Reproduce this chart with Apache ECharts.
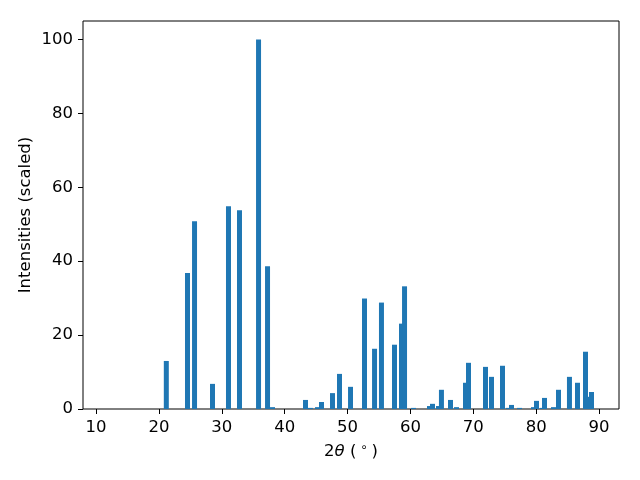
<!DOCTYPE html>
<html><head><meta charset="utf-8">
<script src="https://cdn.jsdelivr.net/npm/echarts@6/dist/echarts.min.js"></script>
<style>html,body{margin:0;padding:0;background:#fff}#c{width:640px;height:480px}</style>
</head><body><div id="c"></div>
<script>
const twoTheta = [21.18, 24.55, 25.67, 28.53, 31.07, 32.82, 35.85, 37.28, 38.07, 43.32, 44.1, 45.23, 45.86, 47.61, 48.73, 50.48, 52.7, 54.3, 55.4, 57.47, 58.59, 59.07, 60.5, 63.04, 63.52, 64.47, 64.94, 66.38, 67.34, 68.77, 69.24, 71.95, 72.9, 74.65, 75.6, 76.08, 77.36, 79.58, 80.06, 81.0, 81.33, 82.76, 83.56, 85.3, 86.58, 87.85, 88.33, 88.81];
const intensities = [13.0, 36.8, 50.8, 6.8, 54.9, 53.8, 100, 38.6, 0.5, 2.45, 0.3, 0.5, 1.9, 4.3, 9.5, 6.0, 29.9, 16.3, 28.8, 17.4, 23.1, 33.2, 0.3, 0.8, 1.4, 0.8, 5.2, 2.45, 0.5, 7.1, 12.5, 11.4, 8.7, 11.7, 0.3, 1.1, 0.3, 0.5, 2.2, 0.3, 3.0, 0.5, 5.2, 8.7, 7.1, 15.5, 3.3, 4.6];
const xTicks = [10, 20, 30, 40, 50, 60, 70, 80, 90];
const yTicks = [0, 20, 40, 60, 80, 100];

const chart = echarts.init(document.getElementById('c'));
const font = 'DejaVu Sans';
const fs = 16.5;
chart.setOption({
  animation: false,
  grid: {left: 83, right: 21, top: 21, bottom: 71, show: true, borderColor: '#000', borderWidth: 1, backgroundColor: 'transparent'},
  xAxis: {
    type: 'value', min: 7.93, max: 93.18,
    name: '2{i|θ} ({s| ∘ })', nameLocation: 'middle', nameGap: 33, nameMoveOverlap: false,
    nameTextStyle: {fontFamily: font, fontSize: fs, color: '#000',
      rich: {i: {fontFamily: font, fontStyle: 'italic', fontSize: fs, color: '#000'},
             s: {fontFamily: font, fontSize: 12, color: '#000', padding: [0, 0, 8, 0]}}},
    splitLine: {show: false},
    axisLine: {show: false},
    axisTick: {show: true, length: 5, inside: false, customValues: xTicks, lineStyle: {color: '#000'}},
    axisLabel: {customValues: xTicks, fontFamily: font, fontSize: fs, color: '#000', margin: 10}
  },
  yAxis: {
    type: 'value', min: 0, max: 105,
    name: 'Intensities (scaled)', nameLocation: 'middle', nameGap: 49, nameRotate: 90, nameMoveOverlap: false,
    nameTextStyle: {fontFamily: font, fontSize: fs, color: '#000'},
    splitLine: {show: false},
    axisLine: {show: false},
    axisTick: {show: true, length: 5, customValues: yTicks, lineStyle: {color: '#000'}},
    axisLabel: {customValues: yTicks, fontFamily: font, fontSize: fs, color: '#000', margin: 10}
  },
  series: [{
    type: 'bar', barWidth: 5,
    itemStyle: {color: '#1f77b4'},
    data: twoTheta.map((x, i) => [x, intensities[i]])
  }]
});
</script></body></html>
